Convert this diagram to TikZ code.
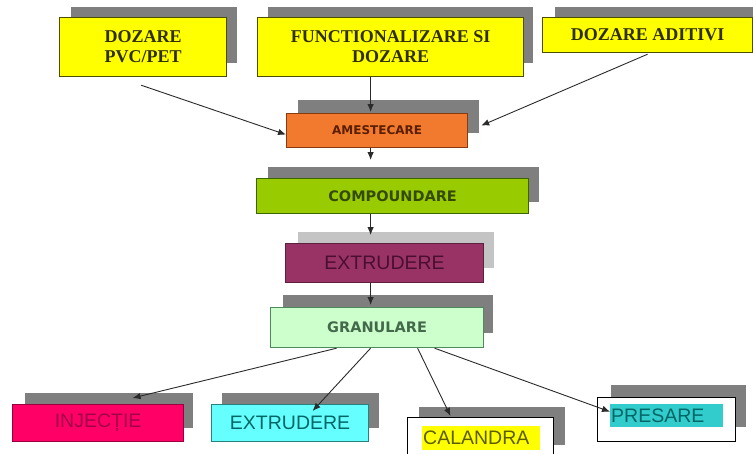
\documentclass[tikz,border=0pt]{standalone}
\usepackage{fontspec}
\setmainfont{Liberation Serif}
\newfontfamily\arialf{Liberation Sans}
\newfontfamily\dejaf{DejaVu Sans}
\usetikzlibrary{arrows.meta}
\definecolor{shadowG}{HTML}{7F7F7F}
\definecolor{shadowL}{HTML}{C4C4C4}
\definecolor{yelF}{HTML}{FFFF00}
\definecolor{yelD}{HTML}{4D4D00}
\definecolor{yelT}{HTML}{2E2E00}
\definecolor{ameF}{HTML}{F27A2E}
\definecolor{ameD}{HTML}{8A3A10}
\definecolor{ameT}{HTML}{5A1E00}
\definecolor{compF}{HTML}{99CC00}
\definecolor{compD}{HTML}{3D6600}
\definecolor{compT}{HTML}{344A00}
\definecolor{extF}{HTML}{993366}
\definecolor{extD}{HTML}{5E1F40}
\definecolor{extT}{HTML}{4A0F30}
\definecolor{granF}{HTML}{CCFFCC}
\definecolor{granD}{HTML}{4C8C5C}
\definecolor{granT}{HTML}{44684A}
\definecolor{injF}{HTML}{FF0066}
\definecolor{injD}{HTML}{99003D}
\definecolor{injT}{HTML}{A0004A}
\definecolor{cyanF}{HTML}{66FFFF}
\definecolor{cyanD}{HTML}{2A7F7F}
\definecolor{cyanT}{HTML}{006666}
\definecolor{calT}{HTML}{5C5C00}
\definecolor{presH}{HTML}{33CCCC}
\definecolor{presT}{HTML}{006666}
\definecolor{arrC}{HTML}{2A2A2A}
\begin{document}
\begin{tikzpicture}[x=1pt,y=-1pt,
  box/.style={draw, line width=1.2pt, rectangle, inner sep=0pt, anchor=north west, align=center},
  shd/.style={fill=shadowG},
  arr/.style={draw=arrC, line width=0.9pt, -{Latex[length=8pt,width=6.5pt]}},
  topfont/.style={font=\bfseries\fontsize{18}{20}\selectfont, text=yelT},
  sfont/.style={font=\arialf\fontsize{19.5}{22}\selectfont}]
\useasboundingbox (0,0) rectangle (753,453);
\begin{scope}
\clip (0,0) rectangle (753,453);
% shadows
\fill[shd] (71,7) rectangle (237,63);
\fill[shd] (268,7) rectangle (533,63);
\fill[shd] (555,7) rectangle (760,40);
\fill[shd] (298,100) rectangle (479,133);
\fill[shd] (268,167) rectangle (539,202);
\fill[shadowL] (298,232) rectangle (494,268);
\fill[shd] (283,295) rectangle (493,333);
\fill[shd] (25,393) rectangle (193,428);
\fill[shd] (222,393) rectangle (379,428);
\fill[shd] (419,407) rectangle (565,445);
\fill[shd] (611,385) rectangle (746,427);
% boxes
\node[box, fill=yelF, draw=yelD, topfont, minimum width=167pt, minimum height=59pt] (pvc) at (59,17) {DOZARE\\PVC/PET};
\node[box, fill=yelF, draw=yelD, topfont, minimum width=266pt, minimum height=59pt] (func) at (257,17) {FUNCTIONALIZARE SI\\DOZARE};
\node[box, fill=yelF, draw=yelD, topfont, minimum width=210pt, minimum height=35pt] (adi) at (542,17) {DOZARE ADITIVI};
\node[box, fill=ameF, draw=ameD, text=ameT, font=\dejaf\bfseries\fontsize{12}{14}\selectfont, minimum width=181pt, minimum height=34pt] (ame) at (286,113) {AMESTECARE};
\node[box, fill=compF, draw=compD, text=compT, font=\dejaf\bfseries\fontsize{14.5}{17}\selectfont, minimum width=272pt, minimum height=35pt] (comp) at (256,178) {COMPOUNDARE};
\node[box, fill=extF, draw=extD, text=extT, sfont, minimum width=198pt, minimum height=39pt] (ext) at (285,243) {EXTRUDERE};
\node[box, fill=granF, draw=granD, text=granT, font=\dejaf\bfseries\fontsize{14.5}{17}\selectfont, minimum width=213pt, minimum height=40pt] (gran) at (270,307) {GRANULARE};
\node[box, fill=injF, draw=injD, text=injT, sfont, minimum width=171pt, minimum height=37pt] (inj) at (12,404) {INJECȚIE};
\node[box, fill=cyanF, draw=cyanD, text=cyanT, sfont, minimum width=157pt, minimum height=37pt] (ext2) at (211,404) {EXTRUDERE};
\node[box, fill=white, draw=black, line width=1pt, minimum width=146pt, minimum height=53pt] (cal) at (407,417) {};
\node[anchor=north west, fill=yelF, inner xsep=1pt, inner ysep=0pt, text width=116pt, align=left, minimum height=24pt, text=calT, sfont] (calh) at (422,426) {CALANDRA};
\node[box, fill=white, draw=black, line width=1pt, minimum width=138pt, minimum height=44pt] (pres) at (597,397) {};
\node[anchor=north west, fill=presH, inner xsep=1pt, inner ysep=0pt, text width=111pt, align=left, minimum height=23pt, text=presT, sfont] (presh) at (610,404) {PRESARE};
% arrows
\draw[arr] ([xshift=-2pt,yshift=-8pt]pvc.south) -- ([yshift=-4pt]ame.west);
\draw[arr] ([xshift=-20pt]func.south) -- ([xshift=-6.5pt,yshift=1pt]ame.north);
\draw[arr] ([yshift=-1pt]adi.south) -- ([xshift=13pt,yshift=5pt]ame.east);
\draw[arr] ([xshift=-6.5pt]ame.south) -- ([xshift=-22pt,yshift=18pt]comp.north);
\draw[arr] ([xshift=-22pt]comp.south) -- ([xshift=-14pt,yshift=8pt]ext.north);
\draw[arr] ([xshift=-14pt]ext.south) -- ([xshift=-6.5pt,yshift=2pt]gran.north);
\draw[arr] ([xshift=-40.5pt]gran.south) -- ([xshift=34.5pt,yshift=6pt]inj.north);
\draw[arr] ([xshift=-6.5pt]gran.south) -- ([xshift=22.5pt,yshift=-7pt]ext2.north);
\draw[arr] ([xshift=40.5pt]gran.south) -- ([xshift=-30pt,yshift=1pt]cal.north);
\draw[arr] ([xshift=57.5pt]gran.south) -- ([yshift=4pt]presh.west);
\end{scope}
\end{tikzpicture}
\end{document}
